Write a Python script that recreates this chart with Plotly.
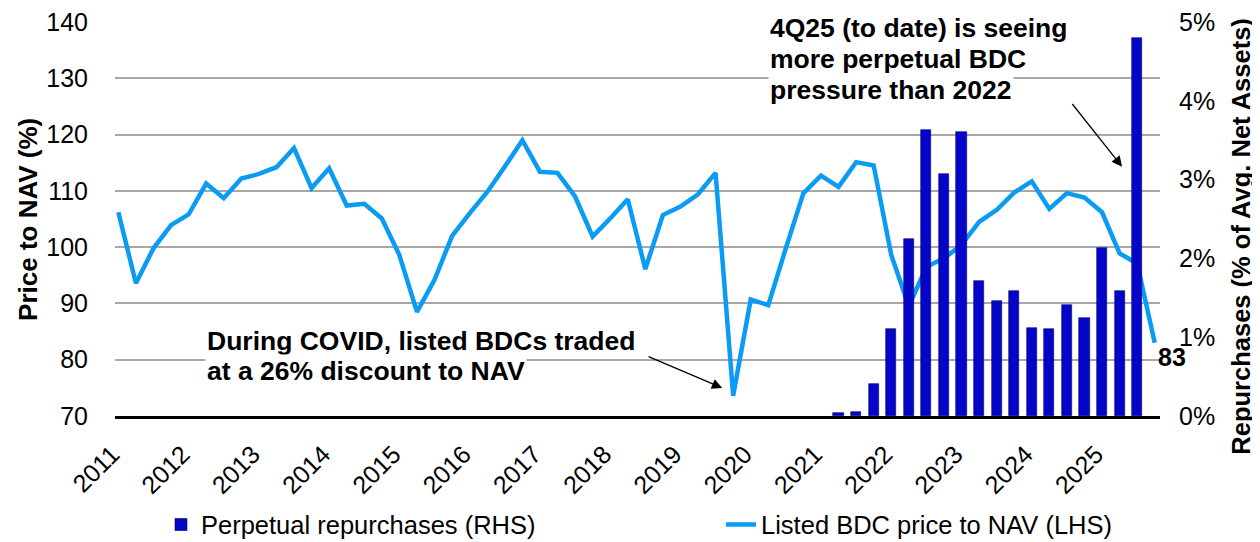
import plotly.graph_objects as go

# quarterly series, index 0 = first quarter shown (2011)
price_to_nav = [106.2, 93.6, 99.8, 103.9, 105.8, 111.3, 108.7, 112.2, 113.0, 114.2,
                117.6, 110.5, 114.0, 107.4, 107.7, 105.1, 98.6, 88.5, 94.2, 102.0,
                106.0, 109.8, 114.3, 119.0, 113.4, 113.2, 109.0, 101.9, 105.1, 108.5,
                96.1, 105.7, 107.2, 109.4, 113.2, 73.6, 90.7, 89.7, 99.8, 109.6,
                112.7, 110.7, 115.1, 114.5, 98.6, 89.5, 96.5, 98.0, 100.4, 104.5,
                106.6, 109.7, 111.7, 106.8, 109.6, 108.8, 106.2, 98.9, 97.1, 83.0]
price_idx = list(range(len(price_to_nav)))

repurchases = [0.04, 0.05, 0.41, 1.10, 2.24, 3.63, 3.07, 3.60, 1.71, 1.46,
               1.59, 1.12, 1.10, 1.41, 1.25, 2.13, 1.59, 4.80]
repurchase_idx = list(range(41, 41 + len(repurchases)))

year_labels = ["2011", "2012", "2013", "2014", "2015", "2016", "2017", "2018",
               "2019", "2020", "2021", "2022", "2023", "2024", "2025"]
year_idx = [4 * i for i in range(len(year_labels))]

covid_note = ["During COVID, listed BDCs traded", "at a 26% discount to NAV"]
q4_note = ["4Q25 (to date) is seeing", "more perpetual BDC", "pressure than 2022"]

FONT = "Liberation Sans, Arial, sans-serif"
LINE_BLUE = "#0A9BF5"
BAR_BLUE = "#0505C8"

fig = go.Figure()
fig.add_trace(go.Bar(
    x=repurchase_idx, y=repurchases, yaxis="y2",
    name="Perpetual repurchases (RHS)",
    width=0.58,
    marker=dict(color=BAR_BLUE, line=dict(color="#00007A", width=0.6)),
    legend="legend",
))
fig.add_trace(go.Scatter(
    x=price_idx, y=price_to_nav, mode="lines",
    name="Listed BDC price to NAV (LHS)",
    line=dict(color=LINE_BLUE, width=4.5),
    legend="legend2",
))

annotations = [
    dict(text="<b>Price to NAV (%)</b>", textangle=-90, xref="paper", yref="paper",
         x=-0.0833, y=0.5, xanchor="center", yanchor="middle", showarrow=False,
         font=dict(size=26)),
    dict(text="<b>Repurchases (% of Avg. Net Assets)</b>", textangle=-90,
         xref="paper", yref="paper", x=1.078, y=0.454, xanchor="center",
         yanchor="middle", showarrow=False, font=dict(size=25.5)),
    dict(text="", xref="x", yref="y", x=57.14, y=114.3, ax=54.24, ay=125.7,
         axref="x", ayref="y", showarrow=True, arrowhead=2, arrowsize=1.6,
         arrowwidth=1.3, arrowcolor="black"),
    dict(text="", xref="x", yref="y", x=34.38, y=74.97, ax=30.1, ay=80.66,
         axref="x", ayref="y", showarrow=True, arrowhead=2, arrowsize=1.6,
         arrowwidth=1.3, arrowcolor="black"),
    dict(text="<b>%.0f</b>" % price_to_nav[-1], xref="x", yref="y",
         x=price_idx[-1], y=price_to_nav[-1], xanchor="left", yanchor="middle",
         xshift=1, yshift=-14, showarrow=False, font=dict(size=25)),
]
for i, line in enumerate(q4_note):
    annotations.append(dict(text="<b>%s</b>" % line, xref="paper", yref="paper",
                            x=0.628, y=0.985, xanchor="left", yanchor="middle",
                            xshift=-3, yshift=-31 * i, showarrow=False,
                            bgcolor="white", font=dict(size=26.5)))
for i, line in enumerate(covid_note):
    annotations.append(dict(text="<b>%s</b>" % line, xref="paper", yref="paper",
                            x=0.089, y=0.19, xanchor="left", yanchor="middle",
                            xshift=-3, yshift=-30 * i, showarrow=False,
                            bgcolor="white", font=dict(size=26.5)))

# page body adds an 8px offset, so the figure is 8px smaller than the window
fig.update_layout(
    width=1252, height=534,
    margin=dict(l=107, r=100, t=14, b=126, autoexpand=False),
    paper_bgcolor="white", plot_bgcolor="white",
    font=dict(family=FONT, size=25, color="black"),
    showlegend=True,
    legend=dict(xref="container", yref="container", x=0.1222, y=0.032,
                xanchor="left", yanchor="middle", font=dict(size=25.5),
                bgcolor="rgba(0,0,0,0)"),
    legend2=dict(xref="container", yref="container", x=0.5695, y=0.032,
                 xanchor="left", yanchor="middle", font=dict(size=25.5),
                 bgcolor="rgba(0,0,0,0)"),
    bargap=0,
    annotations=annotations,
    xaxis=dict(range=[-0.19, 59.3], tickmode="array", tickvals=year_idx,
               ticktext=year_labels, tickangle=-45, showgrid=False,
               showline=True, linecolor="black", linewidth=2.5, ticks="",
               zeroline=False, automargin=False, tickfont=dict(size=25),
               ticklabelstandoff=11, ticklabelshift=-6),
    yaxis=dict(range=[70, 140], dtick=10, showgrid=True, gridcolor="#A8A8A8",
               gridwidth=1.5, zeroline=False, ticks="", ticklabelstandoff=26,
               automargin=False, ticklabeloverflow="allow"),
    yaxis2=dict(range=[0, 5], dtick=1, overlaying="y", side="right",
                showgrid=False, zeroline=False, ticks="", ticksuffix="%",
                ticklabelstandoff=18, automargin=False,
                ticklabeloverflow="allow"),
)

fig.write_html("out.html")
